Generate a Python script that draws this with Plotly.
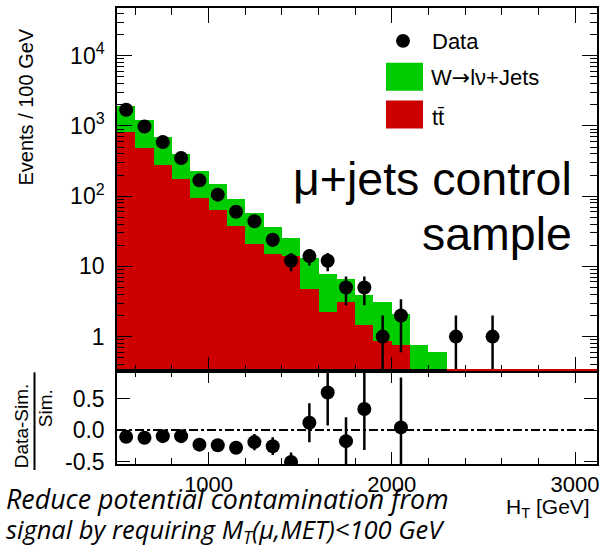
import plotly.graph_objects as go

# ---------------- data ----------------
bin_centers = [550, 650, 750, 850, 950, 1050, 1150, 1250, 1350, 1450,
               1550, 1650, 1750, 1850, 1950, 2050, 2150, 2250]
ttbar = [817, 484, 275, 173, 94, 63, 37.5, 20.7, 14.9, 14.2,
         4.75, 2.26, 3.07, 1.48, 0.86, 0.76, None, None]
wjets = [1118, 713, 412, 230, 137, 87, 52.5, 36.3, 21.1, 11.5,
         8.25, 5.64, 3.63, 2.47, 2.21, 1.34, 0.76, 0.61]

data_x = [550, 650, 750, 850, 950, 1050, 1150, 1250, 1350, 1450,
          1550, 1650, 1750, 1850, 1950, 2050, 2350, 2550]
data_y = [1700, 980, 590, 350, 168, 105, 60, 44, 24, 12,
          14, 12, 5, 5, 1, 2, 1, 1]
data_err_up = [41, 31, 24, 19, 13, 10, 7.7, 6.6, 4.9, 3.5,
               3.7, 3.5, 2.2, 2.2, 1, 1.4, 1, 1]
data_err_dn = [41, 31, 24, 19, 13, 10, 7.7, 6.6, 4.9, 3.5,
               3.7, 3.5, 2.2, 2.2, 0.999, 1.4, 0.999, 0.999]

ratio_x = [550, 650, 750, 850, 950, 1050, 1150, 1250, 1350, 1450,
           1550, 1650, 1750, 1850, 2050]
ratio_y = [-0.107, -0.12, -0.096, -0.096, -0.23, -0.24, -0.28, -0.19, -0.255, -0.505,
           0.117, 0.595, -0.175, 0.335, 0.043]
ratio_err = [0.03, 0.035, 0.04, 0.05, 0.07, 0.08, 0.1, 0.13, 0.14, 0.15,
             0.31, 0.52, 0.38, 0.65, 0.79]

total = [(t or 0) + w for t, w in zip(ttbar, wjets)]

y_tickvals = [1, 10, 100, 1000, 10000]
y_ticktext = ["1", "10", "10<sup>2</sup>", "10<sup>3</sup>", "10<sup>4</sup>"]
r_tickvals = [-0.5, 0.0, 0.5]
r_ticktext = ["-0.5", "0.0", "0.5"]
x_tickvals = [1000, 2000, 3000]

GREEN = "#00cc00"
RED = "#cc0000"
AXFONT = "Arial, 'Liberation Sans', sans-serif"

# --------------- layout geometry helpers (pixels -> paper) ---------------
W, H = 610, 548
ML, MR, MT, MB = 117, 13, 6, 84
PW, PH = W - ML - MR, H - MT - MB


def px(x):
    return (x - ML) / PW


def py(y):
    return (H - MB - y) / PH


split = py(371)

fig = go.Figure()

fig.add_trace(go.Bar(x=bin_centers, y=total, width=100, marker=dict(color=GREEN, line=dict(width=0)),
                     xaxis="x", yaxis="y", showlegend=False))
fig.add_trace(go.Bar(x=bin_centers, y=ttbar, width=100, marker=dict(color=RED, line=dict(width=0)),
                     xaxis="x", yaxis="y", showlegend=False))
fig.add_trace(go.Scatter(x=data_x, y=data_y, mode="markers",
                         marker=dict(color="black", size=14),
                         error_y=dict(type="data", symmetric=False, array=data_err_up,
                                      arrayminus=data_err_dn, color="black", thickness=2.5, width=0),
                         xaxis="x", yaxis="y", showlegend=False))
fig.add_trace(go.Scatter(x=ratio_x, y=ratio_y, mode="markers",
                         marker=dict(color="black", size=14),
                         error_y=dict(type="data", array=ratio_err, color="black", thickness=2.5, width=0),
                         xaxis="x2", yaxis="y2", showlegend=False))

axis_common = dict(showline=True, linecolor="black", linewidth=1.5, mirror="ticks",
                   ticks="inside", tickcolor="black", tickwidth=1.3, showgrid=False, zeroline=False)

fig.update_layout(
    width=W, height=H,
    margin=dict(l=ML, r=MR, t=MT, b=MB),
    paper_bgcolor="white", plot_bgcolor="white",
    barmode="overlay", bargap=0,
    font=dict(family=AXFONT, color="black"),
    xaxis=dict(domain=[0, 1], anchor="y", range=[500, 3120], tickvals=x_tickvals,
               showticklabels=False, ticklen=15,
               minor=dict(dtick=200, tick0=0, ticks="inside", ticklen=7, tickcolor="black", tickwidth=1.3),
               **axis_common),
    yaxis=dict(domain=[split, 1], anchor="x", type="log", range=[-0.496, 4.68],
               tickvals=y_tickvals, ticktext=y_ticktext, ticklen=15,
               tickfont=dict(size=23), ticklabelstandoff=6,
               minor=dict(dtick="D1", ticks="inside", ticklen=7, tickcolor="black", tickwidth=1.3),
               **axis_common),
    xaxis2=dict(domain=[0, 1], anchor="y2", matches="x", range=[500, 3120], tickvals=x_tickvals,
                tickfont=dict(size=22), ticklen=12,
                minor=dict(dtick=200, tick0=0, ticks="inside", ticklen=6, tickcolor="black", tickwidth=1.3),
                **axis_common),
    yaxis2=dict(domain=[0, split], anchor="x2", range=[-0.537, 0.93],
                tickvals=r_tickvals, ticktext=r_ticktext, ticklen=13,
                tickfont=dict(size=23), ticklabelstandoff=6,
                **axis_common),
)

shapes = [
    # zero line in ratio panel
    dict(type="line", xref="x2 domain", yref="y2", x0=0, x1=1, y0=0, y1=0,
         line=dict(color="black", width=2, dash="dashdot")),
    # empty ttbar histogram baseline
    dict(type="line", xref="x", yref="y domain", x0=2300, x1=3120, y0=0.004, y1=0.004,
         line=dict(color=RED, width=2), layer="above"),
    # legend boxes
    dict(type="rect", xref="paper", yref="paper", x0=px(386), x1=px(423), y0=py(89), y1=py(61),
         fillcolor=GREEN, line=dict(width=0)),
    dict(type="rect", xref="paper", yref="paper", x0=px(386), x1=px(423), y0=py(127), y1=py(99),
         fillcolor=RED, line=dict(width=0)),
    dict(type="circle", xref="paper", yref="paper", x0=px(396), x1=px(410), y0=py(46), y1=py(32),
         fillcolor="black", line=dict(width=0)),
    # fraction bar of ratio title
    dict(type="line", xref="paper", yref="paper", x0=px(34.5), x1=px(34.5), y0=py(372), y1=py(470),
         line=dict(color="black", width=2)),
]

arrow = "<span style='font-family:DejaVu Sans'>→</span>"
annotations = [
    dict(text="Data", x=px(430), y=py(40), xanchor="left", yanchor="middle", font=dict(size=22)),
    dict(text="W" + arrow + "lν+Jets", x=px(429), y=py(76), xanchor="left", yanchor="middle",
         font=dict(size=22)),
    dict(text="tt̄", x=px(430), y=py(116), xanchor="left", yanchor="middle", font=dict(size=22)),
    dict(text="μ+jets control", x=px(574), y=py(178), xanchor="right", yanchor="middle",
         font=dict(size=46.5)),
    dict(text="sample", x=px(574), y=py(233), xanchor="right", yanchor="middle",
         font=dict(size=46.5)),
    dict(text="Events / 100 GeV", x=px(26), y=py(106), textangle=-90, xanchor="center",
         yanchor="middle", font=dict(size=20)),
    dict(text="Data-Sim.", x=px(21), y=py(426), textangle=-90, xanchor="center",
         yanchor="middle", font=dict(size=19)),
    dict(text="Sim.", x=px(45), y=py(408), textangle=-90, xanchor="center",
         yanchor="middle", font=dict(size=19)),
    dict(text="H<sub>T</sub> [GeV]", x=px(592), y=py(508), xanchor="right", yanchor="middle",
         font=dict(size=21)),
    dict(text="<i>Reduce potential contamination from</i>", x=px(4), y=py(499), xanchor="left",
         yanchor="middle", font=dict(size=26.8, family="Open Sans")),
    dict(text="<i>signal by requiring M<sub>T</sub>(μ,MET)&lt;100 GeV</i>", x=px(4), y=py(531),
         xanchor="left", yanchor="middle", font=dict(size=25.5, family="Open Sans")),
]
for a in annotations:
    a.update(xref="paper", yref="paper", showarrow=False)

fig.update_layout(shapes=shapes, annotations=annotations)

fig.write_html("out.html")
